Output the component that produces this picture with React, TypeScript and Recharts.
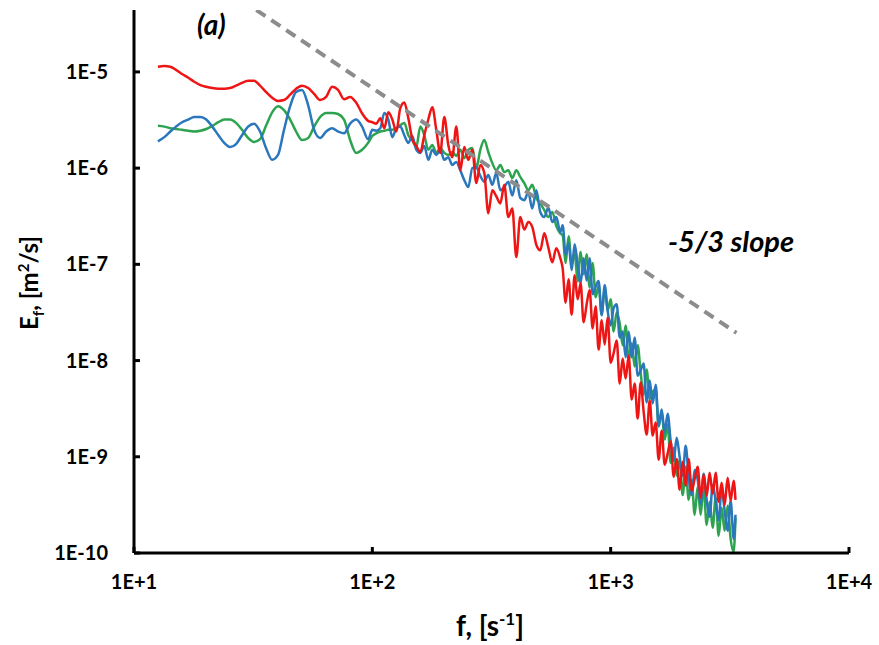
import { LineChart, Line, XAxis, YAxis } from "recharts";

// FFT frequency grid shared by the three spectra [1/s]
const freqs = [
  12.6, 13.4, 14.2, 15.0, 15.9, 16.9, 17.9, 19.0, 20.1, 21.3, 22.6, 23.9, 25.3, 26.8, 28.4, 30.1, 31.9, 33.8,
  35.8, 38.0, 40.2, 42.6, 45.2, 47.9, 50.7, 53.8, 57.0, 60.4, 64.0, 67.8, 71.8, 76.1, 80.7, 85.5, 90.6, 96.0,
  100, 103.9, 108.0, 112.3, 116.7, 121.3, 126.1, 131.0, 136.2, 141.6, 147.1, 152.9, 159.0, 165.2, 171.7, 178.5,
  185.5, 192.8, 200.4, 208.3, 216.5, 225.1, 233.9, 243.1, 252.7, 262.7, 273.0, 283.8, 295.0, 306.6, 318.7, 331.2,
  344.3, 357.8, 371.9, 386.6, 401.8, 417.6, 434.1, 451.2, 469.0, 487.5, 506.7, 526.6, 547.4, 569.0, 591.4, 614.7,
  629, 647, 666, 686, 706, 727, 748, 770, 793, 816, 840, 865, 890, 917, 944, 971, 1000, 1029, 1060, 1091, 1123,
  1156, 1190, 1225, 1261, 1298, 1336, 1375, 1416, 1458, 1500, 1545, 1590, 1637, 1685, 1734, 1785, 1838, 1892,
  1947, 2005, 2064, 2124, 2187, 2251, 2317, 2385, 2455, 2528, 2602, 2679, 2757, 2838, 2922, 3008, 3096, 3187,
  3281, 3340,
];

const redE = [
  1.13e-5, 1.15e-5, 1.13e-5, 1.05e-5, 9.5e-6, 8.7e-6, 7.9e-6, 7.3e-6, 7.0e-6, 6.8e-6, 6.7e-6, 6.7e-6,
  6.8e-6, 7.2e-6, 7.7e-6, 8.1e-6, 8.1e-6, 7.2e-6, 6.2e-6, 5.4e-6, 5.0e-6, 5.1e-6, 5.8e-6, 6.7e-6,
  7.2e-6, 6.8e-6, 5.9e-6, 5.1e-6, 5.5e-6, 7.0e-6, 6.5e-6, 5.2e-6, 5.5e-6, 4.8e-6, 3.7e-6, 3.1e-6,
  3.0e-6, 2.9e-6, 3.3e-6, 2.6e-6, 3.8e-6, 3.2e-6, 2.4e-6, 4.2e-6, 4.8e-6, 3.3e-6, 2.0e-6, 1.7e-6,
  1.47e-6, 2.2e-6, 3.2e-6, 4.3e-6, 2.5e-6, 1.44e-6, 3.4e-6, 1.74e-6, 1.3e-6, 2.7e-6, 9.5e-7, 1.66e-6,
  1.22e-6, 1.55e-6, 7.0e-7, 1.08e-6, 8.9e-7, 3.4e-7, 5.9e-7, 5.1e-7, 4.3e-7, 6.7e-7, 3.1e-7, 3.8e-7,
  1.19e-7, 3.1e-7, 2.3e-7, 2.75e-7, 2.45e-7, 1.6e-7, 1.4e-7, 2.1e-7, 1.5e-7, 1.05e-7, 1.47e-7, 1.16e-7,
  9.1e-8, 4.0e-8, 7.0e-8, 3.0e-8, 7.7e-8, 4.33e-8, 6.35e-8, 2.5e-8, 3.84e-8, 5.4e-8, 2.16e-8, 3.66e-8,
  1.3e-8, 2.62e-8, 1.47e-8, 2.8e-8, 9.5e-9, 1.19e-8, 1.62e-8, 5.77e-9, 1.05e-8, 6.5e-9, 1.13e-8, 3.93e-9,
  5.77e-9, 2.5e-9, 5.9e-9, 2.95e-9, 1.7e-9, 3.84e-9, 1.66e-9, 2.27e-9, 9.3e-10, 1.87e-9, 8.26e-10, 1.08e-9,
  1.44e-9, 6.2e-10, 9.5e-10, 4.54e-10, 8.87e-10, 5.0e-10, 9.5e-10, 4.43e-10, 5.9e-10, 7.87e-10, 3.75e-10, 6.5e-10,
  3.93e-10, 6.82e-10, 4.12e-10, 6.82e-10, 3.4e-10, 5.37e-10, 3.17e-10, 6.05e-10, 3.5e-10, 5.63e-10, 3.57e-10,
];

const blueE = [
  1.9e-6, 2.1e-6, 2.4e-6, 2.7e-6, 3.0e-6, 3.2e-6, 3.4e-6, 3.4e-6, 3.2e-6, 2.7e-6, 2.2e-6, 1.83e-6,
  1.66e-6, 1.78e-6, 2.2e-6, 2.7e-6, 2.9e-6, 2.4e-6, 1.62e-6, 1.22e-6, 1.37e-6, 2.5e-6, 4.4e-6, 6.2e-6,
  6.5e-6, 4.5e-6, 2.5e-6, 2.06e-6, 2.4e-6, 2.6e-6, 2.4e-6, 2.3e-6, 2.9e-6, 3.2e-6, 2.7e-6, 2.0e-6,
  2.5e-6, 2.45e-6, 2.6e-6, 3.75e-6, 3.2e-6, 2.1e-6, 2.6e-6, 2.7e-6, 2.2e-6, 1.83e-6, 2.16e-6, 1.55e-6,
  1.44e-6, 1.7e-6, 1.22e-6, 1.55e-6, 1.37e-6, 1.55e-6, 1.22e-6, 1.3e-6, 1.08e-6, 1.16e-6, 9.5e-7, 7.5e-7,
  6.35e-7, 1.0e-6, 1.02e-6, 8.3e-7, 7.2e-7, 8.5e-7, 6.7e-7, 8.9e-7, 5.9e-7, 6.35e-7, 7.2e-7, 5.2e-7,
  7.5e-7, 4.9e-7, 4.65e-7, 5.6e-7, 3.8e-7, 5.9e-7, 3.5e-7, 3.1e-7, 3.9e-7, 2.75e-7, 3.1e-7, 2.16e-7,
  2.55e-7, 1.27e-7, 1.66e-7, 8.7e-8, 1.62e-7, 1.0e-7, 6.35e-8, 1.16e-7, 6.8e-8, 1.16e-7, 4.9e-8, 5.9e-8,
  6.7e-8, 2.95e-8, 6.05e-8, 3.3e-8, 2.32e-8, 3.5e-8, 3.84e-8, 1.74e-8, 2.0e-8, 1.08e-8, 2.0e-8, 1.08e-8,
  1.74e-8, 6.98e-9, 7.9e-9, 9.3e-9, 3.66e-9, 6.2e-9, 3.57e-9, 5.6e-9, 2.1e-9, 3.1e-9, 1.78e-9, 2.8e-9,
  1.47e-9, 9.1e-10, 1.58e-9, 1.0e-9, 6.35e-10, 1.3e-9, 6.2e-10, 4.0e-10, 7.3e-10, 5.8e-10, 3.24e-10, 6.65e-10,
  3.57e-10, 2.38e-10, 5.1e-10, 3.5e-10, 2.2e-10, 4.65e-10, 2.75e-10, 1.7e-10, 3.5e-10, 1.4e-10, 2.5e-10,
];

const greenE = [
  2.75e-6, 2.7e-6, 2.6e-6, 2.55e-6, 2.5e-6, 2.45e-6, 2.4e-6, 2.45e-6, 2.55e-6, 2.75e-6, 3.0e-6, 3.2e-6,
  3.2e-6, 2.95e-6, 2.5e-6, 2.06e-6, 1.87e-6, 2.0e-6, 2.75e-6, 3.8e-6, 4.4e-6, 4.0e-6, 3.2e-6, 2.4e-6,
  1.96e-6, 2.06e-6, 2.7e-6, 3.4e-6, 3.75e-6, 3.75e-6, 3.65e-6, 3.2e-6, 1.96e-6, 1.44e-6, 1.55e-6, 1.83e-6,
  2.16e-6, 2.3e-6, 2.4e-6, 2.45e-6, 2.5e-6, 2.5e-6, 2.6e-6, 2.8e-6, 2.95e-6, 2.2e-6, 1.96e-6, 1.66e-6,
  2.7e-6, 2.2e-6, 1.55e-6, 1.74e-6, 1.44e-6, 1.62e-6, 1.44e-6, 1.37e-6, 1.47e-6, 1.34e-6, 1.55e-6, 1.27e-6,
  1.55e-6, 1.62e-6, 1.0e-6, 1.55e-6, 1.96e-6, 1.47e-6, 1.13e-6, 9.5e-7, 1.08e-6, 9.1e-7, 9.5e-7, 7.9e-7,
  9.5e-7, 8.1e-7, 7.0e-7, 5.9e-7, 6.7e-7, 4.9e-7, 4.3e-7, 3.66e-7, 3.1e-7, 3.5e-7, 2.5e-7, 2.1e-7,
  2.0e-7, 1.03e-7, 1.96e-7, 1.0e-7, 1.3e-7, 6.65e-8, 1.34e-7, 7.87e-8, 1.27e-7, 5.77e-8, 1.03e-7, 4.54e-8,
  6.05e-8, 3.0e-8, 5.77e-8, 3.3e-8, 4.33e-8, 2.0e-8, 3.17e-8, 2.44e-8, 1.44e-8, 2.32e-8, 1.0e-8, 1.51e-8,
  8.66e-9, 1.44e-8, 7.5e-9, 4.43e-9, 8.06e-9, 4.0e-9, 4.76e-9, 5.0e-9, 2.06e-9, 2.95e-9, 1.51e-9, 2.16e-9,
  8.66e-10, 1.24e-9, 6.35e-10, 9.3e-10, 4.0e-10, 7.87e-10, 3.57e-10, 5.77e-10, 2.5e-10, 4.88e-10, 2.5e-10, 4.88e-10,
  1.96e-10, 3.4e-10, 1.83e-10, 3.75e-10, 1.51e-10, 2.95e-10, 1.7e-10, 3.1e-10, 1.4e-10, 1.03e-10, 2.32e-10,
];

// -5/3 reference line end points
const slopeF = [32.6, 3370];
const slopeE = [4.4e-5, 1.94e-8];

const xTicks = [10, 100, 1000, 10000];
const yTicks = [1e-10, 1e-9, 1e-8, 1e-7, 1e-6, 1e-5];

const table = freqs.map((f, i) => ({ f, red: redE[i], blue: blueE[i], green: greenE[i] }));
const slopeData = slopeF.map((f, i) => ({ f, slope: slopeE[i] }));

const FONT = "Lato, 'Open Sans', sans-serif";

const sci = (v: number) => {
  const e = Math.round(Math.log10(v));
  return "1E" + (e >= 0 ? "+" : "-") + Math.abs(e);
};

const YTick = (props: any) => {
  const { x, y, payload } = props;
  return (
    <g>
      <line x1={x + 26} x2={x + 32} y1={y} y2={y} stroke="#000" strokeWidth={3} />
      <text x={x} y={y} dy={7} textAnchor="end" fontFamily={FONT} fontWeight={700} fontSize={20} fill="#000">
        {sci(payload.value)}
      </text>
    </g>
  );
};

const XTick = (props: any) => {
  const { x, y, payload } = props;
  return (
    <g>
      <line x1={x} x2={x} y1={y - 22} y2={y - 28} stroke="#000" strokeWidth={3} />
      <text x={x} y={y} dy={14} textAnchor="middle" fontFamily={FONT} fontWeight={700} fontSize={20} fill="#000">
        {sci(payload.value)}
      </text>
    </g>
  );
};

export default function App() {
  return (
    <div style={{ position: "absolute", left: 0, top: 0, width: 879, height: 645, background: "#fff" }}>
      <LineChart width={879} height={645} data={table} margin={{ top: 10, right: 30, bottom: 52, left: 64 }}>
        <XAxis
          dataKey="f"
          type="number"
          scale="log"
          domain={[10, 10000]}
          ticks={xTicks}
          allowDataOverflow
          height={40}
          tickSize={0}
          tickMargin={22}
          tickLine={false}
          axisLine={{ stroke: "#000", strokeWidth: 3 }}
          tick={<XTick />}
        />
        <YAxis
          type="number"
          scale="log"
          domain={[1e-10, 4.4e-5]}
          ticks={yTicks}
          allowDataOverflow
          width={70}
          tickSize={0}
          tickMargin={26}
          tickLine={false}
          axisLine={{ stroke: "#000", strokeWidth: 3 }}
          tick={<YTick />}
        />
        <Line dataKey="green" type="monotone" stroke="#2ea34f" strokeWidth={2.5} dot={false} activeDot={false} isAnimationActive={false} />
        <Line dataKey="blue" type="monotone" stroke="#2a77bb" strokeWidth={2.5} dot={false} activeDot={false} isAnimationActive={false} />
        <Line dataKey="red" type="monotone" stroke="#ee1515" strokeWidth={2.5} dot={false} activeDot={false} isAnimationActive={false} />
        <Line
          data={slopeData}
          dataKey="slope"
          type="linear"
          stroke="#8c8c8c"
          strokeWidth={4}
          strokeDasharray="11 7"
          dot={false}
          activeDot={false}
          isAnimationActive={false}
        />
      </LineChart>
      <svg
        width={879}
        height={645}
        style={{ position: "absolute", left: 0, top: 0, pointerEvents: "none" }}
        fontFamily={FONT}
        fontWeight={700}
      >
        <text x={197} y={35} fontSize={28} fontStyle="italic">(a)</text>
        <text x={668} y={252} fontSize={29} fontStyle="italic">-5/3 slope</text>
        <text x={490} y={636} fontSize={28} textAnchor="middle">
          f, [s<tspan dy={-11} fontSize={17}>-1</tspan><tspan dy={11}>]</tspan>
        </text>
        <text x={38} y={283} fontSize={24} textAnchor="middle" transform="rotate(-90, 38, 283)">
          E<tspan dy={6} fontSize={15}>f</tspan><tspan dy={-6}>, [m</tspan>
          <tspan dy={-9} fontSize={15}>2</tspan><tspan dy={9}>/s]</tspan>
        </text>
      </svg>
    </div>
  );
}
